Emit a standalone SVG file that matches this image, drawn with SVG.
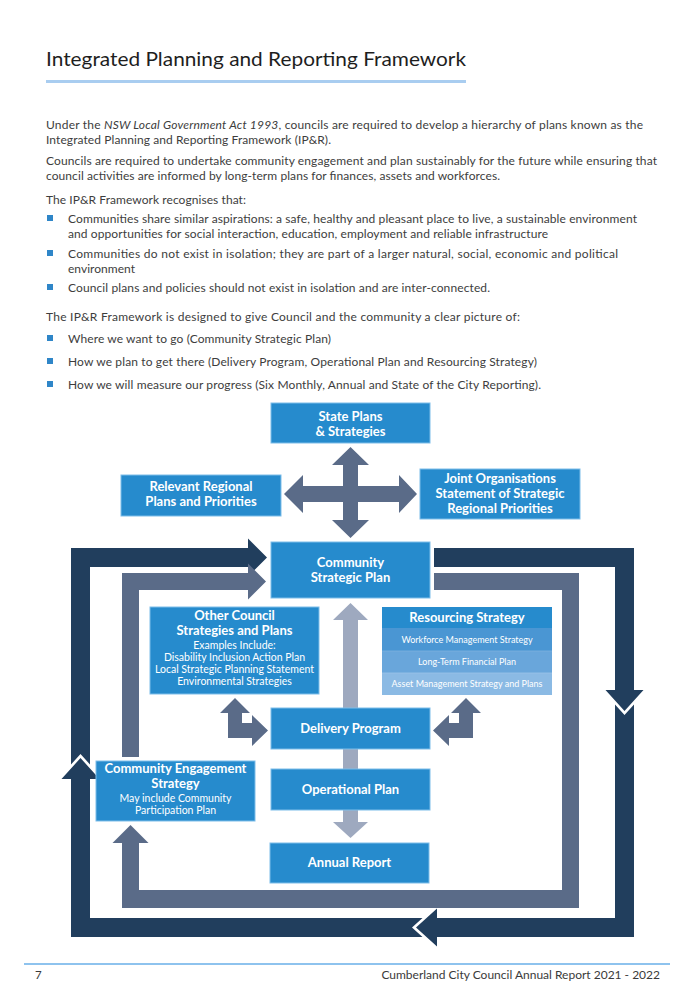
<svg xmlns="http://www.w3.org/2000/svg" width="694" height="989" viewBox="0 0 694 989">
<style>
  .t{font-family:Lato,"Open Sans","Liberation Sans",sans-serif;}
  .title{font-size:20px;fill:#1e1e1e;}
  .p{font-size:12px;fill:#3d3d3d;}
  .box{fill:#268bcd;stroke:#7dbde9;stroke-width:1;}
  .lb{font-family:Lato,"Open Sans","Liberation Sans",sans-serif;font-size:13px;font-weight:bold;fill:#fff;text-anchor:middle;}
  .ls{font-family:Lato,"Open Sans","Liberation Sans",sans-serif;font-size:10.5px;fill:#fff;text-anchor:middle;}
  .lr{font-family:Lato,"Open Sans","Liberation Sans",sans-serif;font-size:9px;fill:#fff;text-anchor:middle;}
  .dark{fill:#213e5d;}
  .mid{fill:#5a6b88;}
  .light{fill:#9ea9bf;}
  .bul{fill:#2f86c8;}
</style>

<!-- Header text -->
<g id="header">
  <text class="t title" x="46" y="66" textLength="420" lengthAdjust="spacingAndGlyphs">Integrated Planning and Reporting Framework</text>
  <rect x="46" y="80" width="420" height="3" fill="#a9cdf0"/>
</g>

<g id="body-text" class="t p">
  <text x="46" y="129" textLength="597">Under the <tspan font-style="italic">NSW Local Government Act 1993</tspan>, councils are required to develop a hierarchy of plans known as the</text>
  <text x="46" y="144" textLength="285">Integrated Planning and Reporting Framework (IP&amp;R).</text>
  <text x="46" y="165" textLength="611">Councils are required to undertake community engagement and plan sustainably for the future while ensuring that</text>
  <text x="46" y="180" textLength="454">council activities are informed by long-term plans for finances, assets and workforces.</text>
  <text x="46" y="204" textLength="200">The IP&amp;R Framework recognises that:</text>
  <text x="68" y="223" textLength="569">Communities share similar aspirations: a safe, healthy and pleasant place to live, a sustainable environment</text>
  <text x="68" y="238" textLength="480">and opportunities for social interaction, education, employment and reliable infrastructure</text>
  <text x="68" y="258" textLength="550">Communities do not exist in isolation; they are part of a larger natural, social, economic and political</text>
  <text x="68" y="273" textLength="67">environment</text>
  <text x="68" y="292" textLength="422">Council plans and policies should not exist in isolation and are inter-connected.</text>
  <text x="46" y="321" textLength="474">The IP&amp;R Framework is designed to give Council and the community a clear picture of:</text>
  <text x="68" y="343" textLength="263">Where we want to go (Community Strategic Plan)</text>
  <text x="68" y="366" textLength="469">How we plan to get there (Delivery Program, Operational Plan and Resourcing Strategy)</text>
  <text x="68" y="389" textLength="473">How we will measure our progress (Six Monthly, Annual and State of the City Reporting).</text>
</g>
<g id="bullets" class="bul">
  <rect x="47" y="215" width="6" height="6"/>
  <rect x="47" y="250" width="6" height="6"/>
  <rect x="47" y="284" width="6" height="6"/>
  <rect x="47" y="335" width="6" height="6"/>
  <rect x="47" y="358" width="6" height="6"/>
  <rect x="47" y="381" width="6" height="6"/>
</g>

<!-- Connectors -->
<g id="connectors">
  <!-- outer dark loop -->
  <polygon class="dark" points="71,764.5 71,548 248,548 248,538.5 267,557.5 248,576.5 248,567 90,567 90,764.5 80.5,754"/>
  <polygon class="dark" points="434,548 634,548 634,690 643.5,690 624.5,711 605.5,690 615,690 615,567 434,567"/>
  <polygon class="dark" points="615,704.5 624.5,715 634,704.5 634,937 437,937 437,946.5 416,927.5 437,908.5 437,918 615,918"/>
  <polygon class="dark" points="422.5,918 412,927.5 422.5,937 71,937 71,779 61.5,779 80.5,758 99.5,779 90,779 90,918"/>
  <!-- middle slate loop -->
  <polygon class="mid" points="122,757 122,573 248,573 248,563.5 266,581.5 248,599.5 248,590 139,590 139,757"/>
  <polygon class="mid" points="434,573 579,573 579,908 122,908 122,843 112.5,843 130.5,825 148.5,843 139,843 139,890 562,890 562,590 434,590"/>
  <!-- cross arrow -->
  <polygon class="mid" points="350.5,447 369,465 358,465 358,486 399,486 399,475 417,494 399,513 399,502 358,502 358,520 369,520 350.5,538 332,520 343,520 343,502 303,502 303,513 284,494 303,475 303,486 343,486 343,465 332,465"/>
  <!-- central light arrows -->
  <polygon class="light" points="343,708 343,620 333,620 350.5,603 368,620 358,620 358,708"/>
  <rect class="light" x="343" y="749" width="15" height="20"/>
  <polygon class="light" points="343,810 358,810 358,822 368,822 350.5,838 333,822 343,822"/>
  <!-- bent arrows -->
  <polygon class="mid" points="228,738 228,713 220,713 235,698 250,713 242,713 242,723 252,723 252,715 268,730.5 252,746 252,738"/>
  <polygon class="mid" points="473,738 473,713 481,713 466,698 451,713 459,713 459,723 449,723 449,715 433,730.5 449,746 449,738"/>
</g>

<!-- Nodes -->
<g id="state-plans">
  <rect class="box" x="271" y="403" width="159" height="40"/>
  <text class="lb" x="350.5" y="421">State Plans</text>
  <text class="lb" x="350.5" y="436">&amp; Strategies</text>
</g>
<g id="regional-plans">
  <rect class="box" x="121" y="475" width="160" height="41"/>
  <text class="lb" x="201" y="491">Relevant Regional</text>
  <text class="lb" x="201" y="506">Plans and Priorities</text>
</g>
<g id="joint-organisations">
  <rect class="box" x="420" y="469" width="160" height="50"/>
  <text class="lb" x="500" y="483">Joint Organisations</text>
  <text class="lb" x="500" y="498">Statement of Strategic</text>
  <text class="lb" x="500" y="513">Regional Priorities</text>
</g>
<g id="community-strategic-plan">
  <rect class="box" x="271" y="542" width="159" height="56"/>
  <text class="lb" x="350.5" y="567">Community</text>
  <text class="lb" x="350.5" y="582">Strategic Plan</text>
</g>
<g id="other-council-strategies">
  <rect class="box" x="150" y="607" width="169" height="87"/>
  <text class="lb" x="234.5" y="620">Other Council</text>
  <text class="lb" x="234.5" y="635">Strategies and Plans</text>
  <text class="ls" x="234.5" y="649">Examples Include:</text>
  <text class="ls" x="234.5" y="661">Disability Inclusion Action Plan</text>
  <text class="ls" x="234.5" y="673">Local Strategic Planning Statement</text>
  <text class="ls" x="234.5" y="685">Environmental Strategies</text>
</g>
<g id="resourcing-strategy">
  <rect x="382" y="607" width="170" height="21" fill="#268bcd"/>
  <rect x="382" y="628" width="170" height="23" fill="#4a96d3"/>
  <rect x="382" y="651" width="170" height="22" fill="#69a6db"/>
  <rect x="382" y="673" width="170" height="22" fill="#8bbae4"/>
  <line x1="382" y1="651" x2="552" y2="651" stroke="#7fb3e0" stroke-width="0.8"/>
  <line x1="382" y1="673" x2="552" y2="673" stroke="#9cc4e8" stroke-width="0.8"/>
  <text class="lb" x="467" y="622">Resourcing Strategy</text>
  <text class="lr" x="467" y="643">Workforce Management Strategy</text>
  <text class="lr" x="467" y="665">Long-Term Financial Plan</text>
  <text class="lr" x="467" y="687">Asset Management Strategy and Plans</text>
</g>
<g id="delivery-program">
  <rect class="box" x="271" y="708" width="159" height="41"/>
  <text class="lb" x="350.5" y="733">Delivery Program</text>
</g>
<g id="operational-plan">
  <rect class="box" x="271" y="769" width="159" height="41"/>
  <text class="lb" x="350.5" y="794">Operational Plan</text>
</g>
<g id="annual-report">
  <rect class="box" x="270" y="843" width="159" height="40"/>
  <text class="lb" x="349.5" y="867">Annual Report</text>
</g>
<g id="community-engagement">
  <rect class="box" x="96" y="761" width="159" height="60"/>
  <text class="lb" x="175.5" y="773">Community Engagement</text>
  <text class="lb" x="175.5" y="788">Strategy</text>
  <text class="ls" x="175.5" y="802">May include Community</text>
  <text class="ls" x="175.5" y="814">Participation Plan</text>
</g>

<!-- Footer -->
<g id="footer">
  <rect x="24" y="963" width="646" height="2" fill="#8ec3ee"/>
  <text class="t" x="35" y="979" font-size="11.5" fill="#3a3a3a">7</text>
  <text class="t" x="660" y="979" font-size="12" fill="#3a3a3a" text-anchor="end">Cumberland City Council Annual Report 2021 - 2022</text>
</g>
</svg>
